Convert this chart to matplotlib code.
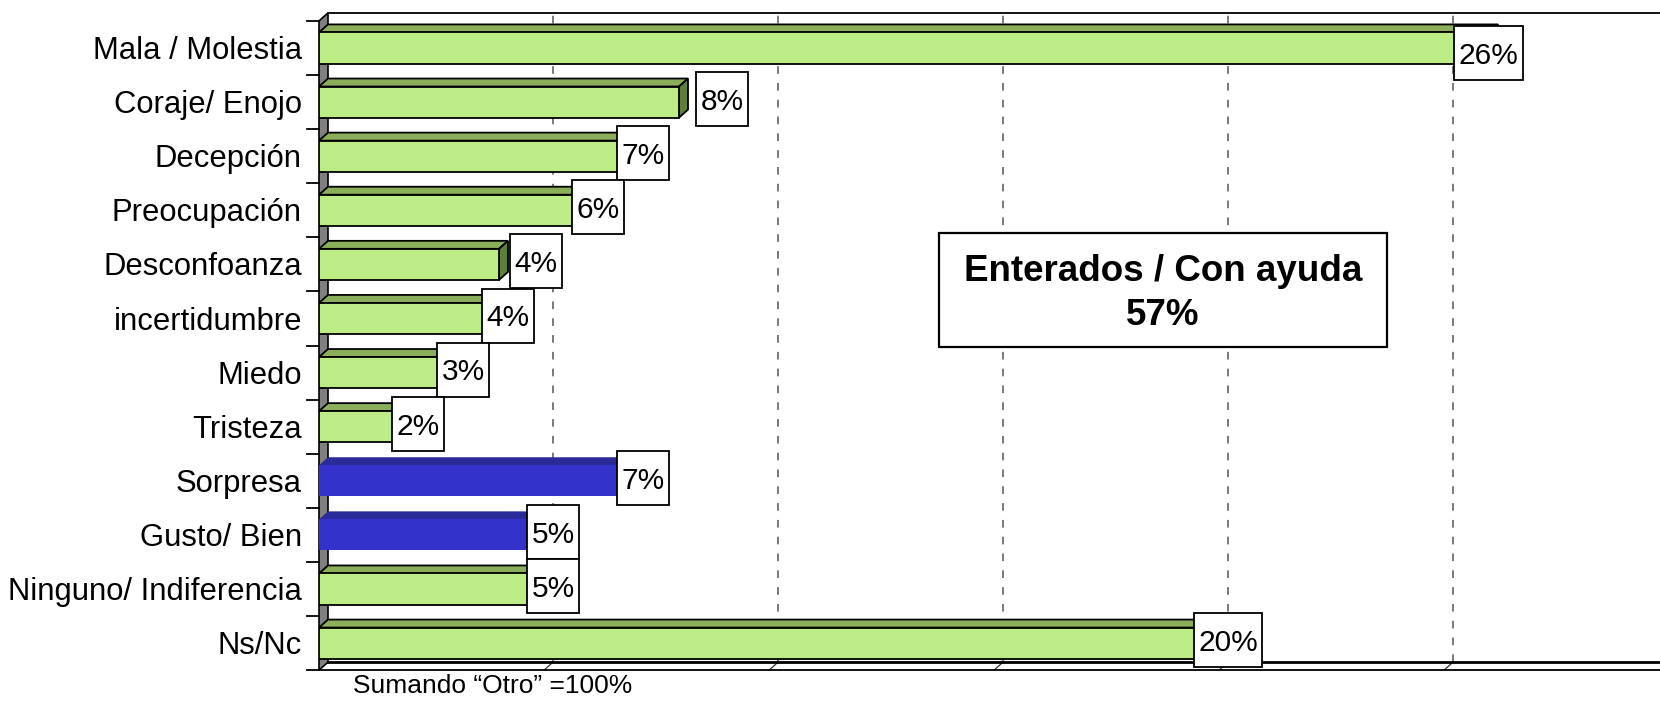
import matplotlib.pyplot as plt
from matplotlib.patches import Polygon, Rectangle
from matplotlib.transforms import IdentityTransform

plt.rcParams['font.family'] = ['Liberation Sans', 'DejaVu Sans']

# DATOS
categorias = ["Mala / Molestia", "Coraje/ Enojo", "Decepción", "Preocupación", "Desconfoanza",
              "incertidumbre", "Miedo", "Tristeza", "Sorpresa", "Gusto/ Bien",
              "Ninguno/ Indiferencia", "Ns/Nc"]
porcentajes = [26, 8, 7, 6, 4, 4, 3, 2, 7, 5, 5, 20]
positivas = ["Sorpresa", "Gusto/ Bien"]          # barras azules
marcas_x = [5, 10, 15, 20, 25]
caja_linea1 = "Enterados / Con ayuda"
caja_linea2 = "57%"
nota = "Sumando \u201cOtro\u201d =100%"

# GEOMETRIA (pixeles de la figura)
W, H = 1660, 702
x0px = 319              # pared izquierda (frente)
pxpct = 45.0            # pixeles por 1%
xmax = (W - x0px) / pxpct
dx, dy = 0.2, 0.148     # profundidad 3D
h = 0.575               # alto de la cara frontal

fig = plt.figure(figsize=(W / 100, H / 100), dpi=100)
ax = fig.add_axes([x0px / W, 0.03376, 1 - x0px / W, 0.9557])
ax.set_xlim(0, xmax)
ax.set_ylim(11.65, -0.75)
ax.set_axis_off()

n = len(categorias)
y_top, y_bot = -0.5, n - 0.5

# pared izquierda gris
ax.add_patch(Polygon([(0, y_top), (dx, y_top - dy), (dx, y_bot - dy), (0, y_bot)],
                     closed=True, fc='#808080', ec='black', lw=1.2, zorder=2, clip_on=False))

# lineas de cuadricula (pared del fondo) y marcas del piso
for m in marcas_x:
    ax.plot([m + dx, m + dx], [y_bot - dy, y_top - dy], ls=(0, (5, 6)), color='#555555', lw=1.1, zorder=1)
    ax.plot([m, m + dx], [y_bot, y_bot - dy], color='#333333', lw=0.9, zorder=1)

# bordes del fondo y piso
ax.plot([dx, xmax], [y_top - dy] * 2, color='black', lw=1.3, zorder=1, clip_on=False)
ax.plot([dx, xmax], [y_bot - dy] * 2, color='black', lw=2.0, zorder=1, clip_on=False)
ax.plot([0, xmax], [y_bot] * 2, color='black', lw=1.3, zorder=1, clip_on=False)

# marcas del eje de categorias
for k in range(n + 1):
    ax.plot([-0.27, 0], [k - 0.5, k - 0.5], color='black', lw=1.3, clip_on=False, zorder=3)

# BARRAS 3D
for i, (cat, v) in enumerate(zip(categorias, porcentajes)):
    top, bot = i - h / 2, i + h / 2
    if cat in positivas:
        cf, ct, cs, ec, lw = '#3333CC', '#2A2A98', '#22227A', 'none', 0
    else:
        cf, ct, cs, ec, lw = '#BDEB86', '#8BAE5B', '#5E7E3C', 'black', 1.3
    ax.add_patch(Polygon([(0, top), (v, top), (v + dx, top - dy), (dx, top - dy)],
                         closed=True, fc=ct, ec=ec, lw=lw, zorder=4))
    ax.add_patch(Polygon([(v, top), (v + dx, top - dy), (v + dx, bot - dy), (v, bot)],
                         closed=True, fc=cs, ec=ec, lw=lw, zorder=4))
    ax.add_patch(Rectangle((0, top), v, h, fc=cf, ec=ec, lw=lw, zorder=5))
    ax.text(-0.38, i + 0.205, cat, ha='right', va='baseline', fontsize=22.3, clip_on=False)

# ETIQUETAS DE PORCENTAJE
ajustes = {"Mala / Molestia": (-0.21, 0.145), "Coraje/ Enojo": (0.76, 0.0), "Desconfoanza": (0.62, 0.0)}
etiquetas = []
for i, (cat, v) in enumerate(zip(categorias, porcentajes)):
    ax_, ay_ = ajustes.get(cat, (0.0, 0.0))
    cx = v + dx + ax_
    cy = i - 0.055 + ay_
    t = ax.text(cx, cy + 0.2, f"{v}%", ha='center', va='baseline', fontsize=21.5, zorder=12, clip_on=False)
    etiquetas.append((t, cx, cy))

fig.canvas.draw()
for t, cx, cy in etiquetas:
    bb = t.get_window_extent()
    px, py = ax.transData.transform((cx, cy))
    wbox = bb.width + 9
    ax.add_patch(Rectangle((px - wbox / 2, py - 27), wbox, 54, transform=IdentityTransform(),
                           fc='white', ec='black', lw=1.3, zorder=11, clip_on=False))

# CAJA "Enterados / Con ayuda"
fig.add_artist(Rectangle((939 / W, 1 - 347 / H), (1387 - 939) / W, (347 - 233) / H,
                         transform=fig.transFigure, fc='white', ec='black', lw=1.6, zorder=20))
fig.text(1163 / W, 1 - 281 / H, caja_linea1, ha='center', va='baseline', fontsize=26.5,
         fontweight='bold', zorder=21)
fig.text(1163 / W, 1 - 325 / H, caja_linea2, ha='center', va='baseline', fontsize=26.5,
         fontweight='bold', zorder=21)

# NOTA
fig.text(352.5 / W, 9 / H, nota, ha='left', va='baseline', fontsize=19)

plt.savefig("out.png", dpi=100)
